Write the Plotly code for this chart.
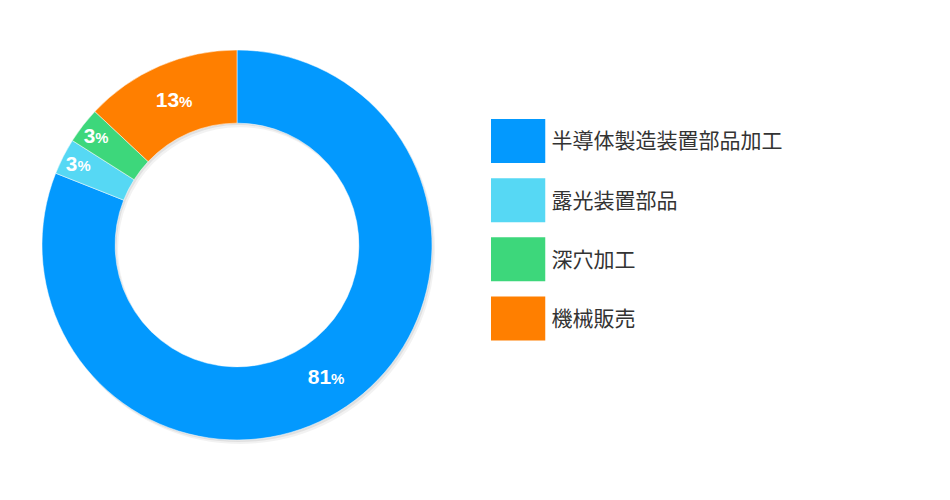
import plotly.graph_objects as go

# 売上構成比
labels = ["半導体製造装置部品加工", "露光装置部品", "深穴加工", "機械販売"]
values = [81, 3, 3, 13]
colors = ["#0399FE", "#56D8F4", "#3DD77B", "#FF7F00"]

W, H = 950, 500
cx, cy, r = 229, 237, 195   # ドーナツの中心と半径(px)

def pie_domain(dx=0, dy=0):
    return dict(x=[(cx + dx - r) / W, (cx + dx + r) / W],
                y=[(H - cy - dy - r) / H, (H - cy - dy + r) / H])

fig = go.Figure()

# うっすら影
for dx, dy, a in [(3, 4, 0.05), (1.5, 2, 0.07)]:
    fig.add_trace(go.Pie(
        values=[sum(values)], hole=0.625, sort=False,
        marker=dict(colors=["rgba(0,0,0,%s)" % a], line=dict(width=0)),
        textinfo="none", domain=pie_domain(dx, dy),
        showlegend=False, hoverinfo="skip",
    ))

fig.add_trace(go.Pie(
    labels=labels, values=values, sort=False, direction="clockwise", rotation=0,
    hole=0.625,
    marker=dict(colors=colors, line=dict(color="white", width=0.5)),
    texttemplate="<b>%{value}</b><span style='font-size:15px'><b>%</b></span>",
    textposition="inside", insidetextorientation="horizontal",
    textfont=dict(family="Liberation Sans, Arial", size=21, color="white"),
    domain=pie_domain(),
    showlegend=False, hoverinfo="skip",
))

# 凡例（四角の色見本）
fig.add_trace(go.Bar(
    y=labels, x=[1] * len(labels), orientation="h", width=0.744,
    marker=dict(color=colors, line=dict(width=0)),
    xaxis="x", yaxis="y", showlegend=False, hoverinfo="skip",
))

fig.update_layout(
    width=W, height=H,
    margin=dict(l=0, r=0, t=0, b=0),
    paper_bgcolor="white", plot_bgcolor="white",
    xaxis=dict(domain=[0.5084, 0.5658], range=[0, 1], visible=False, fixedrange=True),
    yaxis=dict(domain=[0.3198, 0.7932], range=[3.5, -0.5], type="category",
               categoryorder="array", categoryarray=labels,
               side="right", anchor="x", showgrid=False, zeroline=False, showline=False,
               ticks="", ticklabelstandoff=5,
               tickfont=dict(family="Noto Sans CJK JP", size=21, color="#333333"),
               fixedrange=True),
)

fig.write_html("out.html")
